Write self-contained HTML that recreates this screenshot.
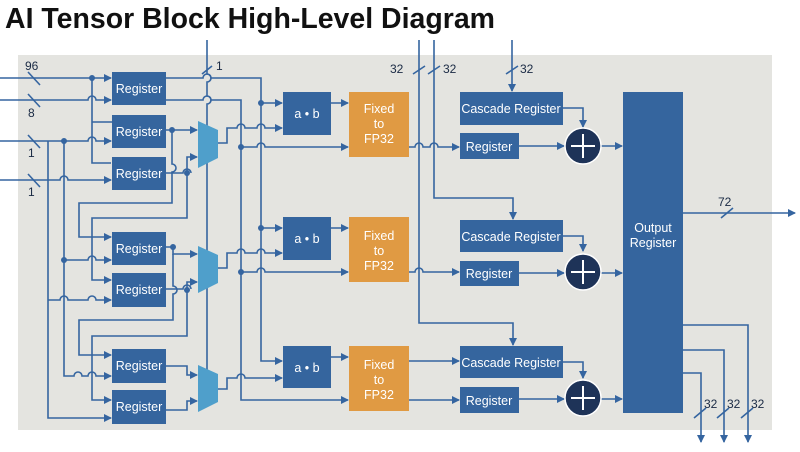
<!DOCTYPE html>
<html><head><meta charset="utf-8"><style>
html,body{margin:0;padding:0;background:#fff;width:800px;height:452px;overflow:hidden}
svg{display:block}
text{font-family:"Liberation Sans",sans-serif}
</style></head><body>
<svg width="800" height="452" viewBox="0 0 800 452" xmlns="http://www.w3.org/2000/svg">
<defs>
<marker id="a" markerWidth="8" markerHeight="8" refX="7" refY="4" orient="auto" markerUnits="userSpaceOnUse"><path d="M0,0 L8,4 L0,8 z" fill="#3565a0"/></marker>
</defs>
<text x="5" y="28" font-size="29" font-weight="bold" fill="#111" textLength="490" lengthAdjust="spacingAndGlyphs">AI Tensor Block High-Level Diagram</text>
<rect x="18" y="55" width="754" height="375" fill="#e4e4e0"/>

<g stroke="#3565a0" stroke-width="1.6" fill="none">
<path d="M0 78 H111" marker-end="url(#a)"/>
<path d="M0 100 H88 a4 4 0 0 1 8 0 H111" marker-end="url(#a)"/>
<path d="M0 141 H88 a4 4 0 0 1 8 0 H111" marker-end="url(#a)"/>
<path d="M0 180 H60 a4 4 0 0 1 8 0 H111" marker-end="url(#a)"/>
<path d="M92 78 V163 H111"/>
<path d="M92 122 H112"/>
<path d="M48 141 V418 H111" marker-end="url(#a)"/>
<path d="M48 300 H60 a4 4 0 0 1 8 0 H88 a4 4 0 0 1 8 0 H111" marker-end="url(#a)"/>
<path d="M64 141 V376 H74 a4 4 0 0 1 8 0 H88 a4 4 0 0 1 8 0 H111" marker-end="url(#a)"/>
<path d="M64 260 H88 a4 4 0 0 1 8 0 H111" marker-end="url(#a)"/>
<path d="M166 130 H197" marker-end="url(#a)"/>
<path d="M172 130 V164 a4 4 0 0 1 0 8 V203 H79 V237 H111" marker-end="url(#a)"/>
<path d="M166 173 H183 a4 4 0 0 1 8 0"/>
<path d="M187 173 V157 H197" marker-end="url(#a)"/>
<path d="M187 173 V218 H92 V280 H111" marker-end="url(#a)"/>
<path d="M166 247 H173 V254 H197" marker-end="url(#a)"/>
<path d="M173 254 V286 a4 4 0 0 1 0 8 V320 H79 V355 H111" marker-end="url(#a)"/>
<path d="M166 289 H183 a4 4 0 0 1 8 0"/>
<path d="M187 290 V282 H197" marker-end="url(#a)"/>
<path d="M187 290 V336 H92 V400 H111" marker-end="url(#a)"/>
<path d="M166 366 H187 V375 H197" marker-end="url(#a)"/>
<path d="M166 410 H187 V401 H197" marker-end="url(#a)"/>
<path d="M207 40 V74 a4 4 0 0 1 0 8 V96 a4 4 0 0 1 0 8 V370"/>
<path d="M166 78 H203 a4 4 0 0 1 8 0 H261 V361 H282" marker-end="url(#a)"/>
<path d="M166 100 H203 a4 4 0 0 1 8 0 H241 V400 H348" marker-end="url(#a)"/>
<path d="M261 103 H282" marker-end="url(#a)"/>
<path d="M261 228 H282" marker-end="url(#a)"/>
<path d="M241 147 H257 a4 4 0 0 1 8 0 H348" marker-end="url(#a)"/>
<path d="M241 272 H257 a4 4 0 0 1 8 0 H348" marker-end="url(#a)"/>
<path d="M218 143 H227 V128 H237 a4 4 0 0 1 8 0 H257 a4 4 0 0 1 8 0 H282" marker-end="url(#a)"/>
<path d="M218 268 H227 V253 H237 a4 4 0 0 1 8 0 H257 a4 4 0 0 1 8 0 H282" marker-end="url(#a)"/>
<path d="M218 389 H227 V378 H237 a4 4 0 0 1 8 0 H282" marker-end="url(#a)"/>
<path d="M331 103 H348" marker-end="url(#a)"/>
<path d="M331 228 H348" marker-end="url(#a)"/>
<path d="M331 357 H348" marker-end="url(#a)"/>
<path d="M409 147 H415 a4 4 0 0 1 8 0 H430 a4 4 0 0 1 8 0 H459" marker-end="url(#a)"/>
<path d="M409 272 H415 a4 4 0 0 1 8 0 H459" marker-end="url(#a)"/>
<path d="M409 400 H459" marker-end="url(#a)"/>
<path d="M409 361 H459" marker-end="url(#a)"/>
<path d="M419 40 V323 H513 V345" marker-end="url(#a)"/>
<path d="M434 40 V198 H513 V219" marker-end="url(#a)"/>
<path d="M512 40 V91" marker-end="url(#a)"/>
<path d="M563 108 H583 V127" marker-end="url(#a)"/>
<path d="M563 236 H583 V251" marker-end="url(#a)"/>
<path d="M563 362 H583 V378" marker-end="url(#a)"/>
<path d="M519 146 H564" marker-end="url(#a)"/>
<path d="M519 273 H564" marker-end="url(#a)"/>
<path d="M519 399 H564" marker-end="url(#a)"/>
<path d="M601 146 H622" marker-end="url(#a)"/>
<path d="M601 273 H622" marker-end="url(#a)"/>
<path d="M601 399 H622" marker-end="url(#a)"/>
<path d="M683 213 H795" marker-end="url(#a)"/>
<path d="M683 325 H748 V442" marker-end="url(#a)"/>
<path d="M683 350 H724 V442" marker-end="url(#a)"/>
<path d="M683 373 H701 V442" marker-end="url(#a)"/>
<path d="M28 72 L40 85 M28 94 L40 107 M28 135 L40 148 M28 174 L40 187"/>
<path d="M202 74 L212 66"/>
<path d="M413 74 L425 66 M428 74 L440 66 M506 74 L518 66"/>
<path d="M721 218 L733 208"/>
<path d="M694 418 L706 408 M717 418 L729 408 M741 418 L753 408"/>
</g>
<g fill="#3565a0">
<circle cx="92" cy="78" r="3"/><circle cx="64" cy="141" r="3"/><circle cx="64" cy="260" r="3"/>
<circle cx="172" cy="130" r="3"/><circle cx="187" cy="173" r="3"/>
<circle cx="173" cy="247" r="3"/><circle cx="187" cy="290" r="3"/>
<circle cx="261" cy="103" r="3"/><circle cx="261" cy="228" r="3"/>
<circle cx="241" cy="147" r="3"/><circle cx="241" cy="272" r="3"/>
</g>
<g fill="#35659e">
<rect x="112" y="72" width="54" height="33"/><rect x="112" y="115" width="54" height="33"/><rect x="112" y="157" width="54" height="33"/>
<rect x="112" y="232" width="54" height="33"/><rect x="112" y="273" width="54" height="34"/>
<rect x="112" y="349" width="54" height="34"/><rect x="112" y="390" width="54" height="34"/>
<rect x="283" y="92" width="48" height="43"/><rect x="283" y="217" width="48" height="43"/><rect x="283" y="346" width="48" height="42"/>
<rect x="460" y="92" width="103" height="33"/><rect x="460" y="133" width="59" height="26"/>
<rect x="460" y="220" width="103" height="32"/><rect x="460" y="261" width="59" height="25"/>
<rect x="460" y="346" width="103" height="32"/><rect x="460" y="387" width="59" height="26"/>
<rect x="623" y="92" width="60" height="321"/>
</g>
<g fill="#e09a43">
<rect x="349" y="92" width="60" height="65"/><rect x="349" y="217" width="60" height="65"/><rect x="349" y="346" width="60" height="65"/>
</g>
<g fill="#4f9fcb">
<path d="M198 121 L218 130 L218 158 L198 168 z"/>
<path d="M198 246 L218 255 L218 283 L198 293 z"/>
<path d="M198 365 L218 374 L218 402 L198 412 z"/>
</g>
<g fill="#1e3358" stroke="#fff" stroke-width="1.5">
<circle cx="583" cy="146" r="18"/><circle cx="583" cy="272" r="18"/><circle cx="583" cy="398" r="18"/>
</g>
<g stroke="#fff" stroke-width="2">
<path d="M571 146 H595 M583 134 V158 M571 272 H595 M583 260 V284 M571 398 H595 M583 386 V410"/>
</g>
<g fill="#fff" font-size="12.5" text-anchor="middle">
<text x="139" y="93">Register</text><text x="139" y="136">Register</text><text x="139" y="178">Register</text>
<text x="139" y="253">Register</text><text x="139" y="294">Register</text>
<text x="139" y="370">Register</text><text x="139" y="411">Register</text>
<text x="307" y="118">a • b</text><text x="307" y="243">a • b</text><text x="307" y="372">a • b</text>
<text x="379" y="113">Fixed</text><text x="379" y="128">to</text><text x="379" y="143">FP32</text>
<text x="379" y="240">Fixed</text><text x="379" y="255">to</text><text x="379" y="270">FP32</text>
<text x="379" y="369">Fixed</text><text x="379" y="384">to</text><text x="379" y="399">FP32</text>
<text x="511" y="113">Cascade Register</text><text x="489" y="151">Register</text>
<text x="511" y="241">Cascade Register</text><text x="489" y="278">Register</text>
<text x="511" y="367">Cascade Register</text><text x="489" y="405">Register</text>
<text x="653" y="232">Output</text><text x="653" y="247">Register</text>
</g>
<g fill="#1a2a44" font-size="12">
<text x="25" y="70">96</text><text x="28" y="117">8</text><text x="28" y="157">1</text><text x="28" y="196">1</text>
<text x="216" y="70">1</text>
<text x="390" y="73">32</text><text x="443" y="73">32</text><text x="520" y="73">32</text>
<text x="718" y="206">72</text>
<text x="704" y="408">32</text><text x="727" y="408">32</text><text x="751" y="408">32</text>
</g>
</svg>
</body></html>
